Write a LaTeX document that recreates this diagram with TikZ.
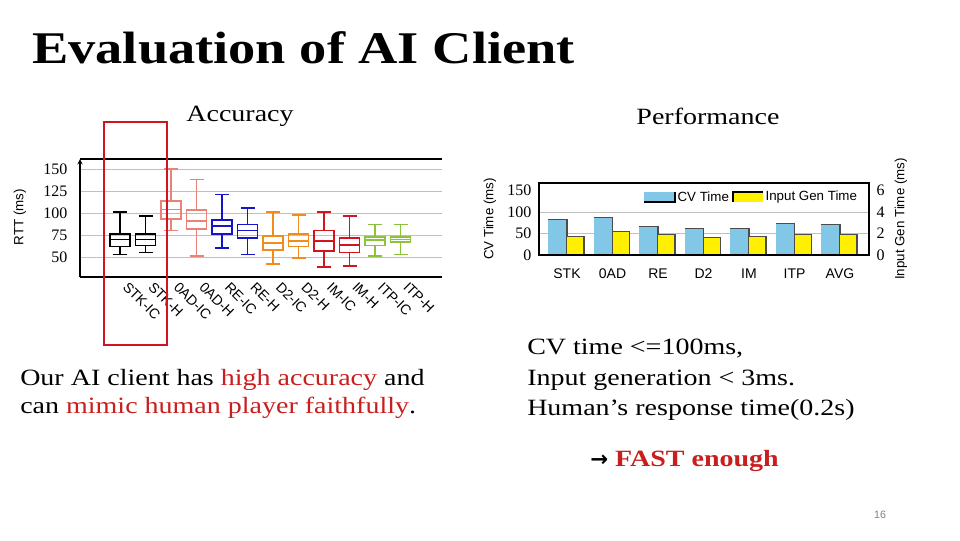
\documentclass[tikz,border=0pt]{standalone}
\usepackage{fontspec}
\setmainfont{Liberation Serif}[FakeStretch=1.2]
\setsansfont{Liberation Sans}
\newfontfamily\djv{DejaVu Sans}
\newfontfamily\tickfont{Liberation Serif}
\begin{document}
\begin{tikzpicture}[x=0.75pt,y=-0.75pt,
  body/.style={font=\fontsize{17.5}{21}\selectfont},
  tick/.style={font=\tickfont\fontsize{12}{14}\selectfont},
  stick/.style={font=\sffamily\fontsize{10}{12}\selectfont},
  cat/.style={font=\sffamily\fontsize{10.5}{12}\selectfont, rotate=-45, anchor=north west, inner sep=0pt},
  grid/.style={draw=gray!50, line width=0.6pt}]
\useasboundingbox (0,0) rectangle (960,540);
\definecolor{salmon}{RGB}{235,130,120}
\definecolor{bblue}{RGB}{20,20,200}
\definecolor{borange}{RGB}{240,140,30}
\definecolor{bred}{RGB}{210,20,30}
\definecolor{bgreen}{RGB}{140,195,60}
\definecolor{cvblue}{RGB}{130,200,230}
\definecolor{ylw}{RGB}{255,240,0}
\definecolor{txtred}{RGB}{200,30,30}
% title
\node[anchor=base west, inner sep=0pt, font=\bfseries\fontsize{34}{40}\selectfont] (title) at (32,63) {Evaluation of AI Client};
\node[body] (acc) at (240,116) {Accuracy};
\node[body] (perf) at (708,116) {Performance};
% left chart
\foreach \v in {50,75,100,125,150}{
  \draw[grid] (80,{257-(\v-50)*0.88}) -- (442,{257-(\v-50)*0.88});
  \node[tick, anchor=east] at (72,{257-(\v-50)*0.88}) {\v};}
\draw[black, line width=0.8pt] (80,159) -- (442,159);
\draw[black, line width=0.8pt] (80,277) -- (442,277);
\draw[black, line width=0.8pt, ->, >=stealth] (80,277) -- (80,159);
\node[stick, rotate=90] (rtt) at (20,217) {RTT (ms)};
\foreach \i/\lo/\qa/\me/\qb/\hi/\c/\lab in {
 0/53/62/70/76/101/black/STK-IC, 1/55/63/70/76/97/black/STK-H,
 2/80/93/104/114/150/salmon/0AD-IC, 3/51/82/91/103/138/salmon/0AD-H,
 4/60/76/85/92/121/bblue/RE-IC, 5/53/72/80/87/106/bblue/RE-H,
 6/42/58/66/74/101/borange/D2-IC, 7/49/62/68/76/98/borange/D2-H,
 8/39/57/68/80/101/bred/IM-IC, 9/40/55/64/72/97/bred/IM-H,
 10/51/63/69/73/87/bgreen/ITP-IC, 11/53/67/70/73/87/bgreen/ITP-H}{
 \pgfmathsetmacro\cx{120+25.5*\i}
 \begin{scope}[draw=\c, line width=1.3pt]
 \draw (\cx-10,{257-(\qa-50)*0.88}) rectangle (\cx+10,{257-(\qb-50)*0.88});
 \draw (\cx-10,{257-(\me-50)*0.88}) -- (\cx+10,{257-(\me-50)*0.88});
 \draw (\cx,{257-(\qb-50)*0.88}) -- (\cx,{257-(\hi-50)*0.88});
 \draw (\cx,{257-(\qa-50)*0.88}) -- (\cx,{257-(\lo-50)*0.88});
 \draw (\cx-7,{257-(\hi-50)*0.88}) -- (\cx+7,{257-(\hi-50)*0.88});
 \draw (\cx-7,{257-(\lo-50)*0.88}) -- (\cx+7,{257-(\lo-50)*0.88});
 \end{scope}
 \node[cat] at (\cx+9,281) {\lab};}
\draw[bred, line width=1.5pt] (104,122) rectangle (167,345);
% right chart
\foreach \v/\r in {0/0,50/2,100/4,150/6}{
  \node[tick, anchor=east] at (536,{255-\v*0.43}) {\v};
  \node[tick, anchor=west] at (872,{255-\v*0.43}) {\r};}
\foreach \v in {50,100}{\draw[grid] (539,{255-\v*0.43}) -- (869,{255-\v*0.43});}
\foreach \i/\cv/\ig/\lab in {0/82/44/STK,1/87/55/0AD,2/66/48/RE,3/62/41/D2,4/62/44/IM,5/74/48/ITP,6/72/48/AVG}{
 \pgfmathsetmacro\cx{567+45.5*\i}
 \fill[cvblue] (\cx-19,255) rectangle (\cx,{255-\cv*0.43});
 \draw[black!70, line width=0.8pt] (\cx-19,{255-\cv*0.43}) -- (\cx,{255-\cv*0.43}) -- (\cx,255);
 \fill[ylw] (\cx,255) rectangle (\cx+17,{255-\ig*0.43});
 \draw[black!70, line width=0.8pt] (\cx,{255-\ig*0.43}) -- (\cx+17,{255-\ig*0.43}) -- (\cx+17,255);
 \node[stick, font=\sffamily\fontsize{10.5}{12}\selectfont] at (\cx,274) {\lab};}
\draw[black, line width=0.8pt] (539,183) rectangle (869,255);
\fill[cvblue] (644,192) rectangle (675,202);
\draw[black, line width=0.8pt] (644,202) -- (675,202) -- (675,192);
\node[stick, anchor=west, inner sep=1pt] (lcv) at (676,197) {CV Time};
\fill[ylw] (733,192) rectangle (763,202);
\draw[black, line width=0.8pt] (733,202) -- (733,192) -- (763,192);
\node[stick, anchor=west, inner sep=1pt] (lig) at (764,197) {Input Gen Time};
\node[stick, rotate=90] (cvl) at (490,219) {CV Time (ms)};
\node[stick, rotate=90] (igl) at (901,219) {Input Gen Time (ms)};
% texts
\node[body, anchor=west, align=left, inner sep=0pt] (left) at (20,394) {Our AI client has \textcolor{txtred}{high accuracy} and\\can \textcolor{txtred}{mimic human player faithfully}.};
\node[body, anchor=west, align=left, inner sep=0pt] (right) at (527,380) {CV time <=100ms,\\[2pt]Input generation < 3ms.\\[2pt]Human’s response time(0.2s)};
\node[body, anchor=west, inner sep=0pt] (fast) at (590,461) {{\djv\bfseries\fontsize{16}{16}\selectfont →} \textcolor{txtred}{\bfseries FAST enough}};
\node[font=\sffamily\fontsize{8}{10}\selectfont, text=gray] (pg) at (880,515) {16};
\end{tikzpicture}
\end{document}
